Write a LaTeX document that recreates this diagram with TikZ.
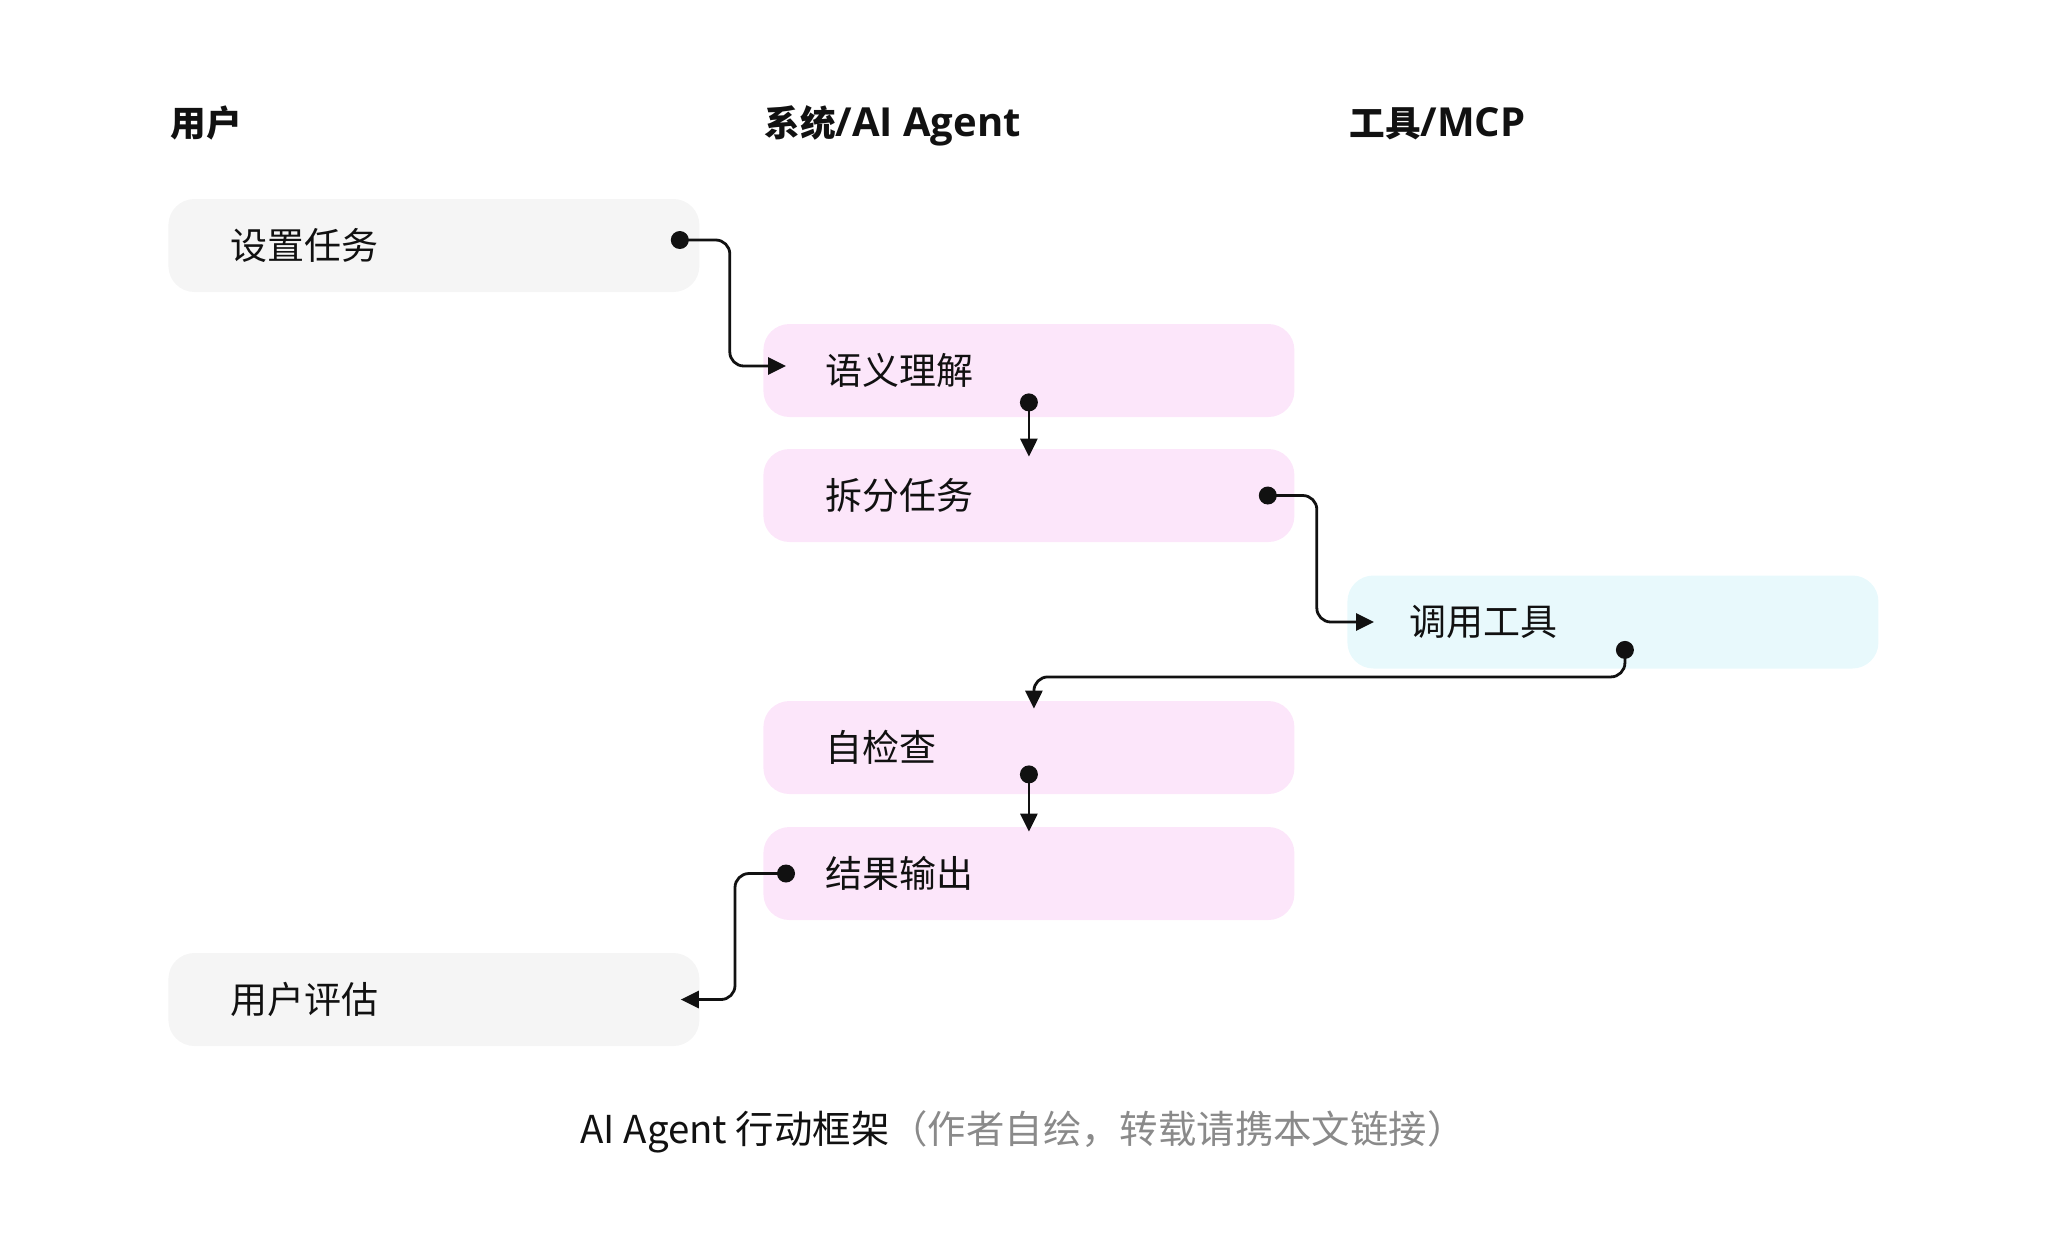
\documentclass[tikz,border=0pt]{standalone}
\usepackage{fontspec}
\setmainfont{Noto Sans CJK SC}
\newfontfamily\latinsans{Open Sans}
\usetikzlibrary{calc,arrows.meta}
\definecolor{usergray}{HTML}{F5F5F5}
\definecolor{syspink}{HTML}{FCE6FA}
\definecolor{toolcyan}{HTML}{E8F9FC}
\definecolor{captiongray}{HTML}{8A8A8A}
\definecolor{ink}{HTML}{111111}
\newcommand{\hdlatin}[1]{{\latinsans\bfseries\fontsize{20pt}{22pt}\selectfont #1}}
\tikzset{
  box/.style={rectangle, rounded corners=13pt, minimum width=265.5pt, minimum height=46.5pt,
    text width=203.5pt, inner xsep=31pt, inner ysep=0pt, align=left, anchor=west,
    font=\fontsize{18.5pt}{22pt}\selectfont, text=ink},
  userbox/.style={box, fill=usergray},
  sysbox/.style={box, fill=syspink},
  toolbox/.style={box, fill=toolcyan},
  header/.style={anchor=base west, inner sep=0pt, font=\fontsize{17.8pt}{20pt}\selectfont\bfseries, text=ink},
  conn/.style={draw=ink, line width=1.4pt, rounded corners=7pt, -{Triangle[length=9pt,width=8.5pt]}},
  dotmark/.style={fill=ink, draw=none}
}
\begin{document}
\begin{tikzpicture}[x=0.5pt,y=-0.5pt]
\useasboundingbox (0,0) rectangle (2048,1249);
% headers
\node[header] (h1) at (170,136) {用户};
\node[header] (h2) at (764,136) {系统\hdlatin{/AI Agent}};
\node[header] (h3) at (1349,136) {工具\hdlatin{/MCP}};
% boxes
\node[userbox] (A) at (168,245.5) {设置任务};
\node[sysbox]  (B) at (763,370.5) {语义理解};
\node[sysbox]  (C) at (763,495.5) {拆分任务};
\node[toolbox] (D) at (1347,622) {调用工具};
\node[sysbox]  (E) at (763,747.5) {自检查};
\node[sysbox]  (F) at (763,873.5) {结果输出};
\node[userbox] (G) at (168,999.5) {用户评估};
% connector endpoints
\coordinate (a1) at ($(A.east)+(-20,-5.5)$);
\coordinate (b0) at ($(B.west)+(23,-4.5)$);
\coordinate (b1) at ($(B.south)+(0,-15)$);
\coordinate (c0) at ($(C.north)+(0,8)$);
\coordinate (c1) at ($(C.east)+(-27,0)$);
\coordinate (d0) at ($(D.west)+(27,0)$);
\coordinate (d1) at ($(D.south)+(12,-19)$);
\coordinate (e0) at ($(E.north)+(5,8)$);
\coordinate (e1) at ($(E.south)+(0,-20)$);
\coordinate (f0) at ($(F.north)+(0,5)$);
\coordinate (f1) at ($(F.west)+(23,0)$);
\coordinate (g0) at ($(G.east)+(-19,0)$);
% connectors
\draw[conn] (a1) -- ++(50,0) |- (b0);
\draw[conn] (b1) -- (c0);
\draw[conn] (c1) -- ++(49,0) |- (d0);
\draw[conn] (d1) -- ++(0,27) -| (e0);
\draw[conn] (e1) -- (f0);
\draw[conn] (f1) -- ++(-51,0) |- (g0);
\foreach \p in {a1,b1,c1,d1,e1,f1} \fill[dotmark] (\p) circle (4.5pt);
% caption
\node[inner sep=0pt, font=\fontsize{19.2pt}{22pt}\selectfont] (cap) at (1023,1132)
  {\textcolor{ink}{AI Agent 行动框架}\textcolor{captiongray}{（作者自绘，转载请携本文链接）}};
\end{tikzpicture}
\end{document}
